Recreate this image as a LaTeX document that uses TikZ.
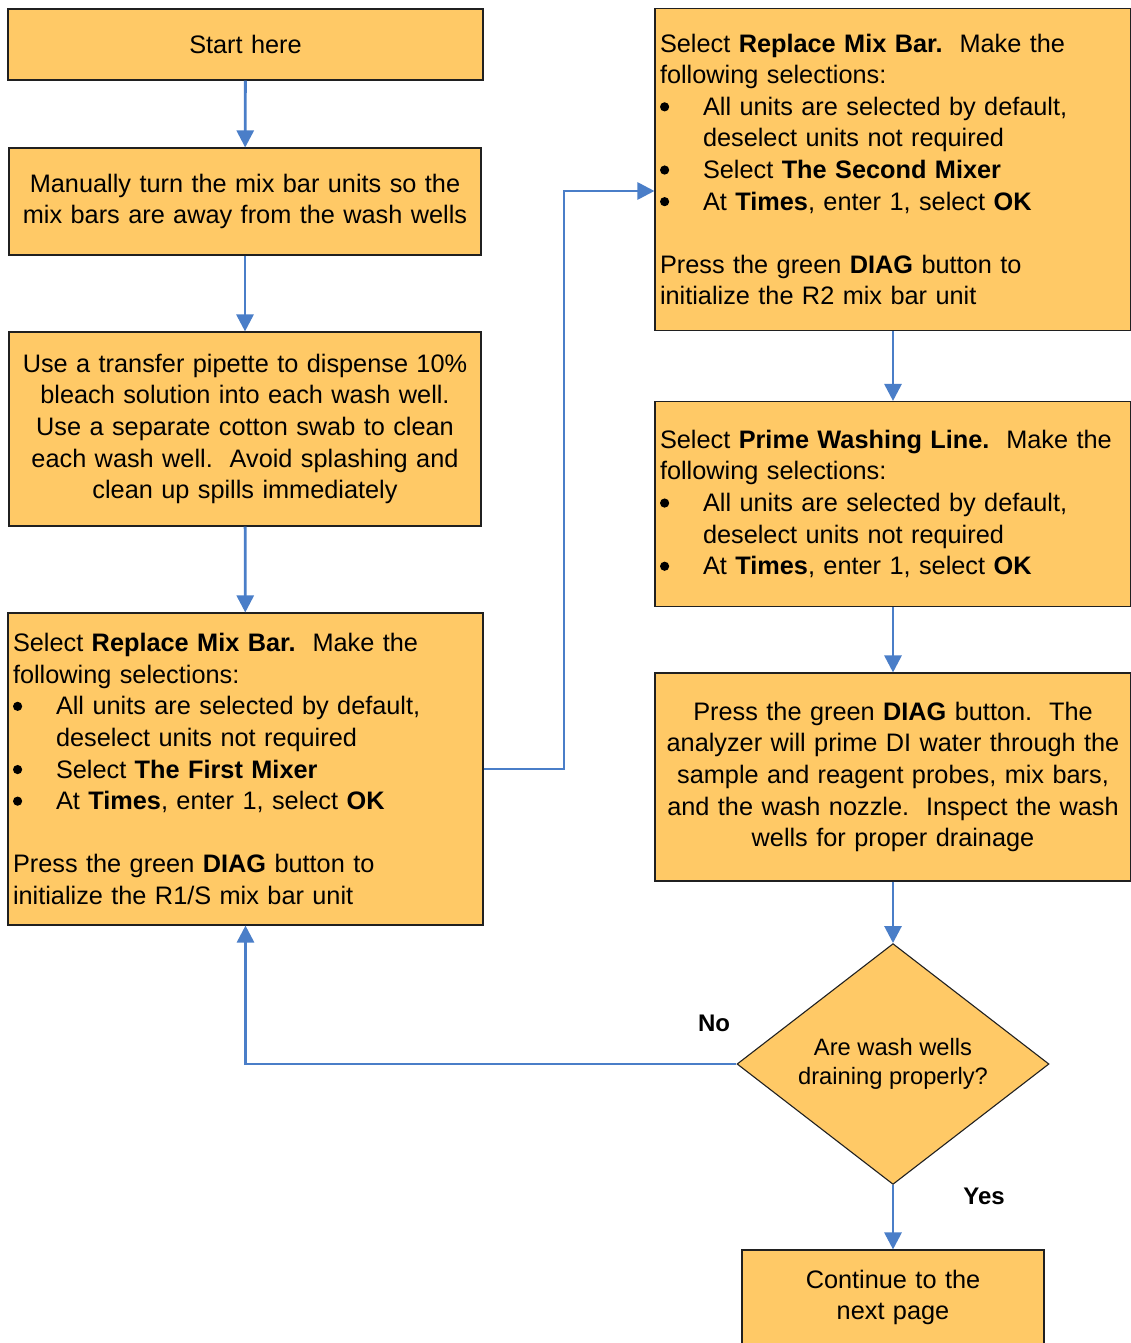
\documentclass[tikz,border=0pt]{standalone}
\usepackage{fontspec}
\setmainfont{Liberation Sans}
\usetikzlibrary{arrows.meta,shapes.geometric}
\definecolor{boxfill}{HTML}{FFC966}
\definecolor{flowblue}{HTML}{4A7EC8}
\definecolor{boxline}{HTML}{202020}
% list marker: a filled dot followed by the hanging indent
\newcommand{\bul}{\makebox[43pt][l]{\tikz[baseline=0pt,x=1pt,y=1pt]\fill (4.5,8.5) circle[radius=4.6pt];}}
\newcommand{\cont}{\hspace*{43pt}}
\begin{document}
\begin{tikzpicture}[x=1pt,y=-1pt,
  every node/.style={font=\fontsize{25.3}{31.6}\selectfont},
  stepbox/.style={draw=boxline,line width=1.1pt,fill=boxfill,rectangle,
    inner xsep=5pt,inner ysep=0pt},
  leftbox/.style={stepbox,align=left,text width=#1},
  midbox/.style={stepbox,align=center,text width=#1},
  decide/.style={draw=boxline,line width=1.1pt,fill=boxfill,diamond,
    inner sep=0pt,align=center,minimum width=312pt,minimum height=233pt,
    font=\fontsize{23.7}{29}\selectfont},
  flow/.style={draw=flowblue,line width=2.8pt,
    -{Triangle[length=17pt,width=17pt]}},
  answer/.style={font=\fontsize{24}{29}\selectfont\bfseries}]
\useasboundingbox (0,0) rectangle (1130,1343);
\fill[white] (0,0) rectangle (1130,1343);

% left column
\node[midbox=465pt,minimum width=475pt,minimum height=71pt] (start) at (245.5,44.5) {Start here};
\node[midbox=462pt,minimum width=472pt,minimum height=107pt] (turn) at (245,201.5)
  {\mbox{Manually turn the mix bar units so the}\\\mbox{mix bars are away from the wash wells}};
\node[midbox=462pt,minimum width=472pt,minimum height=194pt] (clean) at (245,429)
  {\mbox{Use a transfer pipette to dispense 10\%}\\\mbox{bleach solution into each wash well.}\\
   \mbox{Use a separate cotton swab to clean}\\\mbox{each wash well.\ \ Avoid splashing and}\\
   clean up spills immediately};
\node[leftbox=465pt,minimum width=475pt,minimum height=312pt] (mixone) at (245.5,769)
  {Select \textbf{Replace Mix Bar.}\ \ Make the\\following selections:\\
   \bul \mbox{All units are selected by default,}\\\cont deselect units not required\\
   \bul Select \textbf{The First Mixer}\\
   \bul At \textbf{Times}, enter 1, select \textbf{OK}\\[31.6pt]
   Press the green \textbf{DIAG} button to\\initialize the R1/S mix bar unit};

% right column
\node[leftbox=466pt,minimum width=476pt,minimum height=322pt] (mixtwo) at (893,169.5)
  {Select \textbf{Replace Mix Bar.}\ \ Make the\\following selections:\\
   \bul \mbox{All units are selected by default,}\\\cont deselect units not required\\
   \bul Select \textbf{The Second Mixer}\\
   \bul At \textbf{Times}, enter 1, select \textbf{OK}\\[31.6pt]
   Press the green \textbf{DIAG} button to\\initialize the R2 mix bar unit};
\node[leftbox=466pt,minimum width=476pt,minimum height=205pt] (prime) at (893,504)
  {\mbox{Select \textbf{Prime Washing Line.}\ \ Make the}\\following selections:\\
   \bul \mbox{All units are selected by default,}\\\cont deselect units not required\\
   \bul At \textbf{Times}, enter 1, select \textbf{OK}};
\node[midbox=466pt,minimum width=476pt,minimum height=208pt] (drain) at (893,777)
  {\mbox{Press the green \textbf{DIAG} button.\ \ The}\\\mbox{analyzer will prime DI water through the}\\
   \mbox{sample and reagent probes, mix bars,}\\\mbox{and the wash nozzle.\ \ Inspect the wash}\\
   wells for proper drainage};
\node[decide] (check) at (893,1064) {Are wash wells\\draining properly?};
\node[midbox=292pt,minimum width=302pt,minimum height=95pt] (next) at (893,1297.5)
  {Continue to the\\next page};

% connectors
\coordinate (riser) at (564,191);
\draw[flow] (start) -- (turn);
\draw[flow] (turn) -- (clean);
\draw[flow] (clean) -- (mixone);
\draw[flow] (mixone.east) -| (riser) -- (riser -| mixtwo.west);
\draw[flow] (mixtwo) -- (prime);
\draw[flow] (prime) -- (drain);
\draw[flow] (drain) -- (check);
\draw[flow] (check) -- (next);
\draw[flow] (check.west) -| (mixone.south);

% branch labels
\node[answer] (nolabel) at (714,1023) {No};
\node[answer] (yeslabel) at (984,1196) {Yes};
\end{tikzpicture}
\end{document}
